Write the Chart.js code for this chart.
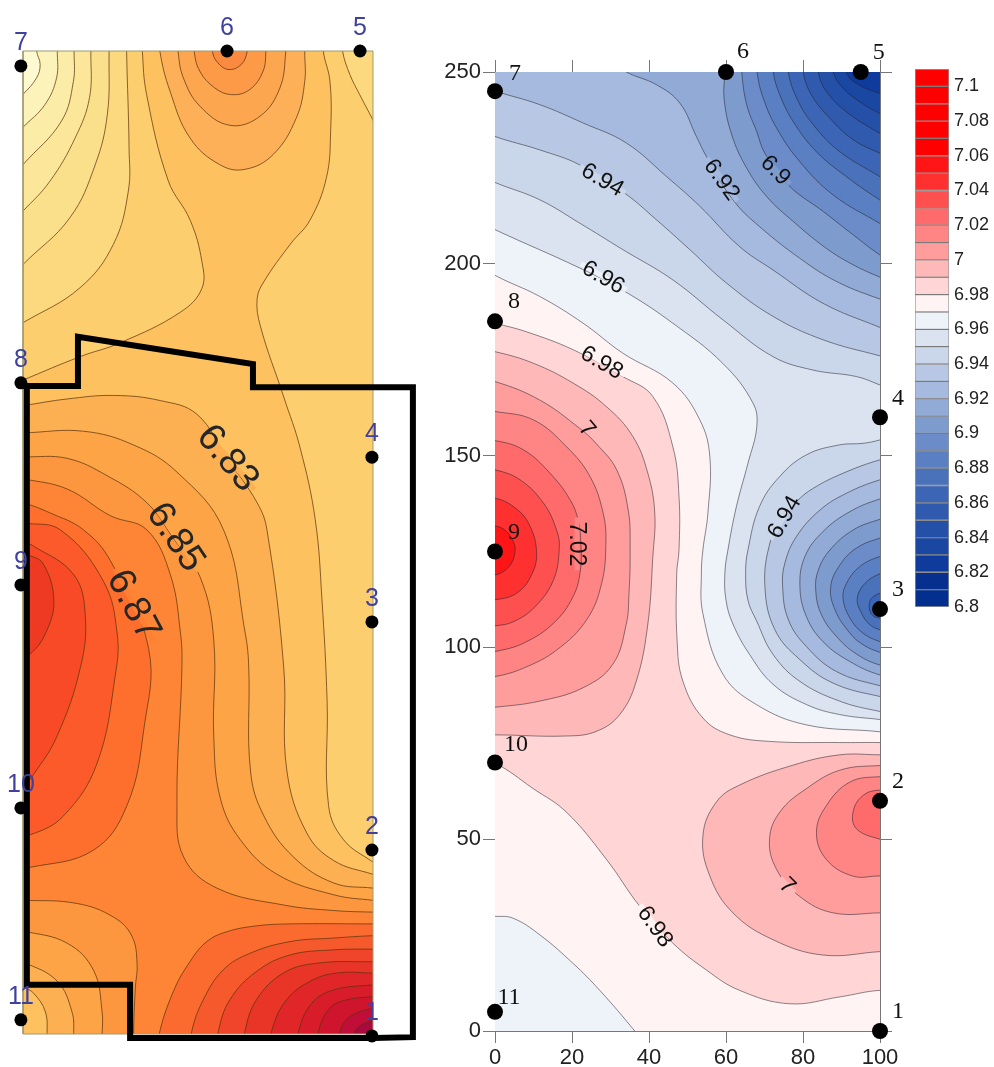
<!DOCTYPE html>
<html>
<head>
<meta charset="UTF-8">
<title>contour maps</title>
<script src="https://cdn.jsdelivr.net/npm/chart.js"></script>
<style>
  body { margin: 0; background: #fff; }
  canvas { position: absolute; }
</style>
</head>
<body>
<canvas id="leftMap" width="430" height="1067" style="left:0;top:0"></canvas>
<canvas id="rightMap" width="465" height="1027" style="left:440px;top:40px"></canvas>
<canvas id="scaleBar" width="89" height="560" style="left:905px;top:60px"></canvas>
<script>
// ---- right map: contours (x 0-100, y 0-250)
const rightBase = [[-10,-10],[110,-10],[110,260],[-10,260]];
const r697 = [[-6,201],[0,197],[11.6,191.5],[22.9,184.5],[33.2,176.7],[46.2,168.9],[53.2,159.3],[55.8,149.7],[55.3,135],[54,125.4],[53.6,119.3],[54,108.8],[59.2,93],[67.9,85.1],[80.9,79.8],[100,78],[106,77],[106,256],[-6,256]];
const r697corner = [[-6,30],[0,29.9],[4.7,29.4],[11.6,25.1],[20.3,17.6],[27.2,10.6],[36.3,0],[40,-5],[-6,-5]];
const r696 = [[-6,212],[0,208.9],[22,198.9],[33.7,192.8],[46.2,184.5],[59.2,174],[67,163.7],[68,157.6],[65.7,148],[62.7,136.7],[60.5,125.4],[59.7,119.3],[60,112.3],[61.8,106.1],[66.1,98.2],[72.2,90.4],[80.9,85.1],[89.5,82.5],[100,81.2],[106,80.5],[106,256],[-6,256]];
const r695a = [[-6,224],[0,221.2],[11.6,216.7],[22,210.6],[33.2,203.7],[46.2,195.8],[59.2,185.4],[72.2,175.8],[82.6,172.3],[93.9,170.6],[100,168.4],[106,166],[106,256],[-6,256]];
const r695b = [[106,156],[100,154.1],[95.6,153.2],[89.5,152.8],[80.9,150.2],[73.9,144.5],[68.7,136.7],[65.7,125.4],[65.1,119.3],[65.7,112.3],[67.9,107],[72.2,98.2],[79.1,91.2],[89.5,86],[100,83.3],[106,82.5]];
const r694a = [[-6,236],[0,233.2],[11.6,229.7],[22,225.8],[33.7,218.4],[41.9,211.5],[50.6,203.7],[60.1,195],[72.2,186.3],[85.2,180.2],[100,176],[106,174.5],[106,256],[-6,256]];
const r694b = [[106,150],[100,148.9],[90.4,145.4],[82.7,141.5],[78.3,138],[74.4,133.2],[71.4,127.2],[70.1,115.9],[72.7,104.6],[79.2,96.8],[87.8,90.7],[100,87.2],[106,86.5]];
const r693a = [[-6,247],[0,245],[11.6,241.5],[22.9,236.7],[34.1,231.5],[44.5,222.8],[53.2,215],[63.5,204.5],[72.2,198.4],[85.2,189.7],[100,183.4],[106,181],[106,256],[-6,256]];
const r693b = [[106,145],[100,143.7],[91.3,140.2],[84.4,135.8],[78.3,128.9],[75.3,122],[74.7,115.9],[76.2,107.2],[80.9,100.2],[88.7,93.7],[100,90],[106,89]];
const r692a = [[30,253],[34.1,250],[41.9,246.7],[48,241.9],[52.3,233.2],[54.9,228],[61.8,216.7],[68.7,209.7],[80.9,200.2],[89.5,195],[100,190.8],[106,189],[106,256],[30,256]];
const r692b = [[106,140],[100,138.7],[92.2,135.4],[85.2,130.2],[80.5,123.7],[79.2,115.9],[80.9,108],[85.2,101.5],[92.2,96.3],[100,92.8],[106,92]];
const r691a = [[59.7,256],[59.7,249.9],[59.5,243.1],[61.5,233.6],[65.4,224.9],[70.6,217.5],[77.5,211],[86.1,204],[93.1,199.7],[100,196.5],[106,194],[106,256]];
const r691b = [[106,135],[100,133.4],[93,130.6],[87,125.4],[84,120.2],[83.3,115],[84.8,108.5],[89.1,102.4],[94.3,98],[100,95.4],[106,94.5]];
const r690a = [[64.1,256],[64.1,249.9],[65.4,241.4],[68,234.4],[70.1,228.8],[76.2,220.5],[85.3,213.6],[93.1,207.5],[100,202.3],[106,199],[106,256]];
const r690b = [[106,130],[100,128.5],[93.9,125.9],[89.6,121.5],[87.2,115.9],[88.3,109.8],[92.2,103.7],[95.6,100.7],[100,98.7],[106,97]];
const r689a = [[68.1,256],[68.1,249.9],[69.7,243.1],[73.2,235.3],[79.2,226.6],[87.9,217.9],[100,210.5],[106,207],[106,256]];
const r689b = [[106,125],[100,123.7],[94.8,121.1],[91.3,116.7],[90.4,112.8],[92.2,107.6],[95.6,103.7],[100,101.5],[106,100]];
const r688a = [[72.3,256],[72.3,249.9],[74,244],[77.5,237],[83.5,229.2],[91.3,222.7],[100,216.6],[106,213],[106,256]];
const r688b = [[106,121],[100,119.2],[96.1,116.7],[94.1,112.8],[95.2,108.9],[97.4,105.9],[100,104.6],[106,103]];
const r687a = [[76.2,256],[76.2,249.9],[78.4,243.1],[82.7,236.2],[89.6,229.2],[100,222.7],[106,219],[106,256]];
const r687b = [[106,116],[100,114.1],[97.8,112.8],[97.2,110.6],[98,108.4],[100,107.6],[106,106]];
const r686 = [[80.1,256],[80.1,249.9],[82.2,244],[87,237.9],[93.1,232.3],[100,228.8],[106,226],[106,256]];
const r685 = [[84,256],[84,249.9],[86.1,244.9],[91.3,239.6],[100,234],[106,231],[106,256]];
const r684 = [[87.9,256],[87.9,249.9],[90.5,245.7],[94.8,242.2],[100,239.2],[106,237],[106,256]];
const r683 = [[91.3,256],[91.3,249.9],[93.9,247],[100,244.4],[106,243],[106,256]];
const r698 = [[-6,186],[0,184.5],[8.1,182.3],[20.3,177.6],[33.2,170.6],[41,165.4],[46.2,152.3],[47.8,139.3],[47.8,125.4],[47.2,119.3],[47.3,101.8],[48.8,91.2],[54,81.6],[61,77.2],[71.3,75.5],[89.5,75.2],[100,75.2],[106,75],[106,10],[100,10.6],[89.6,8.9],[76.5,7.1],[63.5,10.6],[54.9,15.9],[46.2,22.9],[37.6,32.5],[28.9,44.8],[18.5,57.1],[9.9,63.2],[0,69.8],[-6,71]];
const r699a = [[-6,178],[0,177.1],[9.9,174.1],[20.3,168.9],[28.9,162.8],[35.8,155],[39.7,145.4],[41.5,135],[41,123.7],[39.7,106.1],[36.7,91.2],[32.4,82.5],[26.3,78.1],[18.5,76.9],[0,77.2],[-6,77]];
const r700a = [[-6,170],[0,169.3],[11.6,164.5],[22,157.1],[26.4,153],[31.6,146.3],[34.6,135.8],[35.1,125.4],[34.8,114],[34.1,106.1],[30.6,95.6],[22.9,89.5],[11.6,86],[0,84.4],[-6,84]];
const r701a = [[-6,162],[0,161.5],[10,159.3],[18.6,152.3],[24.7,144.5],[28.1,135],[28.8,127.2],[27.7,116.7],[23.8,107.2],[16,99.3],[7.4,94.6],[0,92.4],[-6,92]];
const r702a = [[-6,154],[0,153.9],[7.4,151.5],[14.3,145.4],[19.5,138.5],[21.6,133.2],[22.3,127],[22.2,120.2],[20.3,113.3],[15.2,106.3],[7.4,101.1],[0,98.9],[-6,98]];
const r703 = [[-6,147],[0,146.3],[6.5,143.7],[12.6,137.6],[16,130.6],[16.7,125.9],[15.2,117.6],[10.4,110.6],[4.8,106.7],[0,105.6],[-6,105]];
const r704 = [[-6,139],[0,138.9],[4.8,136.7],[8.7,132.4],[10.8,125],[9.5,118.9],[5.6,114.1],[0,112.4],[-6,112]];
const r705 = [[-6,132],[0,131.7],[3,130.2],[4.9,127.2],[5.2,125],[4.3,122],[2.2,119.8],[0,118.9],[-6,118]];
const r699b = [[106,72],[100,72],[89.6,72],[77.4,69.3],[63.5,64.1],[57.5,59.7],[54,50.9],[55.8,40.4],[61.8,30.8],[72.2,23.8],[85.2,19.8],[100,20.7],[106,21]];
const r700b = [[106,69],[100,69.2],[89.6,68],[80.9,63.2],[74,57.1],[71.3,50],[73.1,42.2],[79.1,35.1],[87.8,30.8],[100,30.8],[106,31]];
const r701b = [[106,66],[100,66.3],[92.2,64.9],[86.1,58.8],[83.5,51.8],[86,44.8],[92.9,40.4],[100,40.4],[106,40]];
const r702b = [[106,62],[100,62.8],[95.6,61.4],[93,57.1],[93.9,52.7],[100,50],[106,49]];

const rightPointNames = ["1","2","3","4","5","6","7","8","9","10","11"];
const rightPointX = [100,100,100,100,95,60,0,0,0,0,0];
const rightPointY = [0,60,110,160,250,250,245,185,125,70,5];
const rightLabelText = ["6.94","6.92","6.9","6.96","6.98","7","7.02","6.94","7","6.98"];
const rightLabelX = [28,59,73,28.2,27.8,24,21.3,75,76,41.7];
const rightLabelY = [222,222,224.5,196.6,174.4,157,127,134,38,27.3];
const rightLabelAngle = [30,55,45,30,30,50,90,-60,45,55];
const rightLabelGap = ["#cad6ea","#a5bade","#7e9bce","#eef2f9","#fff4f3","#ffb8b8","#ff8585","#cad6ea","#ffb8b8","#fff4f3"];

// ---- left map: same idea, its own picture units
const leftBase = [[-10,-10],[110,-10],[110,260],[-10,260]];
const lR1 = [[85.8,256],[85.8,250],[87.7,242.3],[87.9,229.6],[86.7,217.8],[82,207],[76.4,200.9],[68.8,191.3],[66.9,187],[67.8,180.1],[74.5,162],[79.2,149],[83.5,130.8],[85.4,110.7],[86.9,84.4],[87.3,58.1],[91.6,49.4],[100,43.7],[106,40],[106,256]];
const lL9 = [[91,256],[91.3,250],[93.4,244],[96.2,238.9],[99.9,232.6],[106,222],[106,256]];
const lL7 = [[34,256],[34.1,250],[35.3,239],[41.5,217],[47.8,206.9],[51.1,196.5],[51.1,189.6],[45,183.6],[27.8,175.8],[16.4,172.3],[0,166.3],[-6,164],[-6,256]];
const lL6 = [[29.6,256],[29.6,250],[30.3,225.4],[30.1,214.4],[25.8,200.8],[16.3,189.8],[0,180.9],[-6,178],[-6,256]];
const lL5 = [[24.6,256],[24.6,250],[24.1,233.9],[20.6,221],[13.4,207.6],[0,195.7],[-6,190],[-6,256]];
const lL4 = [[19.4,256],[19.4,250],[19,238.1],[14.9,227.9],[7.7,216.9],[0,209.3],[-6,204],[-6,256]];
const lL3 = [[14.6,256],[14.6,250],[14.4,242.3],[11,232.2],[0,221.1],[-6,215],[-6,256]];
const lL2 = [[9.8,256],[9.8,250],[9.6,243.2],[6.3,236.4],[0,230.6],[-6,225],[-6,256]];
const lL1 = [[3.9,256],[3.9,250],[4.9,246.6],[3.9,243.2],[0,239],[-6,234],[-6,256]];
const lA4 = [[39,256],[39.1,250],[42,239.8],[47.7,227.9],[56.2,221.1],[63.4,219.9],[71.5,223.7],[78.1,233],[80.5,242.3],[80.5,250],[80.7,256]];
const lA3 = [[44,256],[44.3,250],[45.8,243.2],[50.5,236],[59.1,231.1],[67.7,233.4],[73.4,240.6],[75.1,250],[75.3,256]];
const lA2 = [[48.7,256],[48.9,250],[50.5,244.9],[54.8,240.6],[59.6,238.9],[64.8,240.2],[68.6,244.9],[69.4,250],[69.6,256]];
const lA1 = [[53.8,254],[54.1,250],[55.3,247.4],[58.6,245.3],[62.4,246.6],[64.1,250],[64.5,254]];
const lC1 = [[-6,159],[0,159.8],[12.6,161.5],[25.9,162.4],[39.2,161.1],[49.7,157.6],[58.3,146.4],[66.9,135.1],[69.7,128.2],[74.5,93.2],[75.4,66.9],[81.1,51.1],[88.8,44.1],[100,40.6],[106,39],[106,-6],[-6,-6]];
const lC2 = [[-6,153],[0,152.9],[17.3,153.3],[31.6,149.8],[44,142.9],[57.3,128.2],[63.5,101.9],[64.5,93.2],[65,66.9],[68.8,55.5],[77.3,45],[88.8,38.4],[100,37.1],[106,36.5],[106,-6],[-6,-6]];
const lC3 = [[-6,147],[0,146.8],[12.6,146.4],[24,142],[35.4,135.1],[43,126],[50.7,116],[54.5,100.2],[54.5,75.7],[56.4,59.9],[62.1,49.4],[72.6,40.6],[88.8,35.4],[100,34],[106,33.5],[106,-6],[-6,-6]];
const lC4 = [[-6,142],[0,141.2],[12.6,138.6],[25,131.8],[35.4,128.2],[42.1,116.8],[45,101.9],[45.4,93.2],[44,58.1],[45.9,45],[55.4,37.1],[74.5,32.8],[88.8,31.4],[100,31],[106,31],[106,-6],[-6,-6]];
const lBL1 = [[-6,34],[0,34],[15.4,33.2],[25.9,29.7],[31.1,24.9],[32.6,17.9],[32.1,11.8],[31.6,-0.5],[32,-6],[-6,-6]];
const lBL2 = [[-6,27],[0,26.2],[12.6,23.1],[20.2,16.1],[22.6,5.6],[22.6,-0.5],[22.6,-6],[-6,-6]];
const lBL3 = [[-6,20],[0,18.3],[9.7,13.5],[14,5.6],[14.5,-0.5],[14.5,-6],[-6,-6]];
const lBL4 = [[-6,13],[0,11.8],[3,10.4],[6.4,5.6],[6.9,-0.5],[6.9,-6],[-6,-6]];
const lC5 = [[-6,136],[0,135.1],[7.8,132.5],[17.3,128.2],[25,120.3],[35.9,98],[34.5,77.4],[29.7,58.1],[20.2,46.8],[2.1,42.4],[-6,42]];
const lC6 = [[-6,131],[0,130],[10.7,128.2],[23,115.1],[26.9,101.9],[26.4,91.4],[21.1,68.7],[11.6,55.5],[2.1,50.7],[-6,50]];
const lC7 = [[-6,126],[0,125],[2.6,124.3],[14.5,116.8],[17.8,106.3],[16.4,93.2],[9.7,75.7],[3,66],[0,63],[-6,60]];
const lC8 = [[-6,123],[2.1,121.6],[5.9,119.4],[8.8,110.7],[6.9,102.8],[2.1,96.7],[-6,93]];
const lBR1 = [[38.8,-6],[38.8,-0.5],[43,10.9],[47.7,18.4],[52.5,23.5],[58.2,26],[66.7,27.5],[76.3,28],[100,28],[106,28],[106,-6]];
const lBR2 = [[47.6,-6],[48.2,0.6],[51.5,8.7],[57.2,16.3],[64.8,20.5],[76.3,23.5],[88.7,24.4],[100,25],[106,25],[106,-6]];
const lBR3 = [[55.2,-6],[55.8,0.6],[59.1,8.7],[66.7,15.9],[76.3,20.1],[88.7,21.4],[100,21.6],[106,21.6],[106,-6]];
const lBR4 = [[62.8,-6],[63.4,0.6],[66.7,8.7],[74.4,15.5],[83.9,18],[100,18.4],[106,18.4],[106,-6]];
const lBR5 = [[70.4,-6],[71,0.6],[75.3,8.7],[82.9,13.8],[90.6,15.6],[100,15.5],[106,15.5],[106,-6]];
const lBR6 = [[78.2,-6],[78.7,0.6],[82.5,7.8],[88.7,11.2],[100,12.5],[106,12.8],[106,-6]];
const lBR7 = [[84,-6],[84.4,0.6],[87.7,6.6],[92.5,8.7],[100,9.5],[106,10],[106,-6]];
const lBR8 = [[90.2,-6],[90.6,0.6],[93.4,4.4],[100,6.6],[106,7.5],[106,-6]];
const lBR9 = [[94.5,-6],[94.8,0.6],[100,3.6],[106,5],[106,-6]];
const leftFrame = [[0,0],[100,0],[100,250],[0,250],[0,0]];
const leftOutline = [[-0.6,164.8],[15.7,164.8],[15.7,177.3],[65.7,170.4],[65.7,164.5],[111.4,164.5],[111.4,-0.8],[100.2,-1],[30.6,-1],[30.6,12.5],[1.1,12.5],[1.1,164.8]];

const leftPointNames = ["1","2","3","4","5","6","7","8","9","10","11"];
const leftPointX = [99.7,99.7,99.7,99.7,96.3,58.3,-0.6,-0.6,-0.6,-0.6,-0.6];
const leftPointY = [-0.5,46.8,104.8,146.7,250,250,246.2,165.6,114.2,57.5,3.6];
const leftLabelText = ["6.83","6.85","6.87"];
const leftLabelX = [58.6,43.7,31.7];
const leftLabelY = [146.5,126.4,109.1];
const leftLabelAngle = [50,56,62];
const leftLabelGap = ["#fdb052","#fda447","#ff8033"];

// ---- colour bar, bottom band first
const barBottom = 6.8;
const barStep = 0.01;
const barColours = ["#03308f","#062f8e","#0f3c9c","#1a47a2","#2450a8","#2f5aae","#3c66b5","#4a72bb","#5a7fc2","#6b8cc8","#7e9bce","#91aad6","#a5bade","#b8c8e4","#cad6ea","#dbe3f1","#eef2f9","#fff4f3","#ffd5d5","#ffb8b8","#ff9d9d","#ff8585","#ff6b6b","#ff5050","#ff3030","#ff1515","#ff0000","#ff0000","#ff0000","#ff0000","#ff0000"];

function area(points, color, extra) {
  return Object.assign({
    data: points.map(p => ({ x: p[0], y: p[1] })),
    showLine: true,
    fill: "shape",
    backgroundColor: color,
    borderColor: "rgba(35,30,40,0.75)",
    borderWidth: 0.7,
    pointRadius: 0,
    tension: 0.4
  }, extra || {});
}

// left map lines are browner and a bit heavier
function warm(points, color) {
  return area(points, color, { borderColor: "rgba(90,50,10,0.8)", borderWidth: 0.9 });
}

function dots(xs, ys, radius) {
  return {
    label: "points",
    data: xs.map((x, i) => ({ x: x, y: ys[i] })),
    backgroundColor: "#000",
    borderWidth: 0,
    pointRadius: radius,
    showLine: false,
    clip: false
  };
}

// rotated contour labels and station numbers
function textPlugin(cfg) {
  return {
    id: "mapText",
    afterDatasetsDraw(chart) {
      const ctx = chart.ctx, sx = chart.scales.x, sy = chart.scales.y;
      ctx.save();
      ctx.textAlign = "center";
      ctx.textBaseline = "middle";
      cfg.text.forEach((t, i) => {
        ctx.save();
        ctx.translate(sx.getPixelForValue(cfg.x[i]), sy.getPixelForValue(cfg.y[i]));
        ctx.rotate(cfg.angle[i] * Math.PI / 180);
        ctx.font = cfg.font;
        const w = ctx.measureText(t).width + 8;
        ctx.fillStyle = cfg.gap[i];
        ctx.fillRect(-w / 2, -2.5, w, 5);
        ctx.fillStyle = cfg.color;
        ctx.fillText(t, 0, 1);
        ctx.restore();
      });
      ctx.font = cfg.numFont;
      ctx.fillStyle = cfg.numColor;
      cfg.numNames.forEach((n, i) => {
        const off = cfg.numOffset[i];
        ctx.fillText(n, sx.getPixelForValue(cfg.numX[i]) + off[0], sy.getPixelForValue(cfg.numY[i]) + off[1]);
      });
      ctx.restore();
    }
  };
}

const baseOptions = {
  responsive: false,
  animation: false,
  events: [],
  elements: { line: { capBezierPoints: false } },
  plugins: { legend: { display: false }, tooltip: { enabled: false } }
};

// left map
const leftSets = [
  area(leftBase, "#fdc160", { tension: 0, borderWidth: 0 }),
  warm(lR1, "#fdce6e"), warm(lL9, "#fcd87f"),
  warm(lL7, "#fdce6e"), warm(lL6, "#fcd87f"), warm(lL5, "#fbe08c"), warm(lL4, "#fbe699"),
  warm(lL3, "#fbeca8"), warm(lL2, "#fcf3bb"), warm(lL1, "#fdf9d0"),
  warm(lA4, "#fdb058"), warm(lA3, "#fda650"), warm(lA2, "#fc9a48"), warm(lA1, "#f98a3f"),
  warm(lC1, "#fdb052"), warm(lC2, "#fda447"), warm(lC3, "#fd973f"), warm(lC4, "#fe8535"),
  warm(lBL1, "#fd973f"), warm(lBL2, "#fda447"), warm(lBL3, "#fdb052"), warm(lBL4, "#fdc160"),
  warm(lC5, "#fe6f2e"), warm(lC6, "#fc5a2a"), warm(lC7, "#f84a26"), warm(lC8, "#ee3a22"),
  warm(lBR1, "#fb6b30"), warm(lBR2, "#f65a2c"), warm(lBR3, "#f0452a"), warm(lBR4, "#e83528"),
  warm(lBR5, "#e02628"), warm(lBR6, "#d81c2a"), warm(lBR7, "#cf142e"), warm(lBR8, "#c00e38"), warm(lBR9, "#a80a40"),
  area(leftFrame, "transparent", { fill: false, tension: 0, borderColor: "#a09a70", borderWidth: 1, clip: false }),
  dots(leftPointX, leftPointY, 6.5),
  area(leftOutline, "transparent", { fill: false, tension: 0, borderColor: "#000", borderWidth: 6, clip: false })
];

new Chart(document.getElementById("leftMap"), {
  type: "scatter",
  data: { datasets: leftSets.reverse() }, // first dataset is painted last by Chart.js
  options: Object.assign({}, baseOptions, {
    layout: { padding: { left: 23, right: 57, top: 51, bottom: 33 } },
    scales: {
      x: { type: "linear", min: 0, max: 100, display: false },
      y: { type: "linear", min: 0, max: 250, display: false }
    }
  }),
  plugins: [textPlugin({
    text: leftLabelText, x: leftLabelX, y: leftLabelY, angle: leftLabelAngle, gap: leftLabelGap,
    font: "38px 'Liberation Sans'", color: "#262626",
    numNames: leftPointNames, numX: leftPointX, numY: leftPointY,
    numOffset: leftPointNames.map(() => [0, -23]),
    numFont: "25px 'Liberation Sans'", numColor: "#40409f"
  })]
});

// right map
const blueSets = [
  area(rightBase, "#fff4f3", { tension: 0, borderWidth: 0 }),
  area(r697, "#eef2f9"), area(r697corner, "#eef2f9"), area(r696, "#dbe3f1"),
  area(r695a, "#cad6ea"), area(r695b, "#cad6ea"), area(r694a, "#b8c8e4"), area(r694b, "#b8c8e4"),
  area(r693a, "#a5bade"), area(r693b, "#a5bade"), area(r692a, "#91aad6"), area(r692b, "#91aad6"),
  area(r691a, "#7e9bce"), area(r691b, "#7e9bce"), area(r690a, "#6b8cc8"), area(r690b, "#6b8cc8"),
  area(r689a, "#5a7fc2"), area(r689b, "#5a7fc2"), area(r688a, "#4a72bb"), area(r688b, "#4a72bb"),
  area(r687a, "#3c66b5"), area(r687b, "#3c66b5"), area(r686, "#2f5aae"), area(r685, "#2450a8"),
  area(r684, "#1a47a2"), area(r683, "#0f3c9c")
];
const redSets = [
  area(r698, "#ffd5d5"), area(r699a, "#ffb8b8"), area(r700a, "#ff9d9d"), area(r701a, "#ff8585"),
  area(r702a, "#ff6b6b"), area(r703, "#ff5050"), area(r704, "#ff3030"), area(r705, "#ff1515"),
  area(r699b, "#ffb8b8"), area(r700b, "#ff9d9d"), area(r701b, "#ff8585"), area(r702b, "#ff6b6b")
];
const rightSets = blueSets.concat(redSets, [dots(rightPointX, rightPointY, 8)]);

const axisLine = { color: "#777", width: 1 };
const axisTicks = { drawOnChartArea: false, tickLength: 12, color: "#777" };
const axisFont = { family: "'Liberation Sans'", size: 22 };

new Chart(document.getElementById("rightMap"), {
  type: "scatter",
  data: { datasets: rightSets.reverse() },
  options: Object.assign({}, baseOptions, {
    scales: {
      x: { type: "linear", position: "bottom", min: 0, max: 100, border: axisLine, grid: axisTicks,
           ticks: { stepSize: 20, font: axisFont, color: "#222", padding: 2, maxRotation: 0 }, afterFit: s => { s.height = 36; } },
      x2: { type: "linear", position: "top", min: 0, max: 100, border: axisLine, grid: axisTicks,
            ticks: { stepSize: 20, display: false }, afterFit: s => { s.height = 32; } },
      y: { type: "linear", position: "left", min: 0, max: 250, border: axisLine, grid: axisTicks,
           ticks: { stepSize: 50, font: axisFont, color: "#222", padding: 2 }, afterFit: s => { s.width = 55; } },
      y2: { type: "linear", position: "right", min: 0, max: 250, border: axisLine, grid: axisTicks,
            ticks: { stepSize: 50, display: false }, afterFit: s => { s.width = 25; } }
    }
  }),
  plugins: [textPlugin({
    text: rightLabelText, x: rightLabelX, y: rightLabelY, angle: rightLabelAngle, gap: rightLabelGap,
    font: "23px 'Liberation Sans'", color: "#111",
    numNames: rightPointNames, numX: rightPointX, numY: rightPointY,
    numOffset: [[18,-19],[18,-19],[18,-19],[18,-19],[18,-19],[17,-20],[20,-17],[19,-20],[19,-19],[21,-18],[14,-14]],
    numFont: "24px 'Liberation Serif'", numColor: "#111"
  })]
});

// colour bar
new Chart(document.getElementById("scaleBar"), {
  type: "bar",
  data: {
    labels: ["z"],
    datasets: barColours.map((c, i) => ({
      data: [[barBottom + i * barStep, barBottom + (i + 1) * barStep]],
      backgroundColor: c,
      borderColor: "rgba(30,30,30,0.45)",
      borderWidth: 1,
      borderSkipped: false,
      barPercentage: 1,
      categoryPercentage: 1,
      grouped: false
    }))
  },
  options: Object.assign({}, baseOptions, {
    layout: { padding: { left: 10, top: 9, bottom: 13 } },
    scales: {
      x: { display: false },
      y: {
        position: "right", min: 6.8, max: 7.11,
        grid: { display: false, drawTicks: false }, border: { display: false },
        ticks: {
          stepSize: 0.02, includeBounds: false, autoSkip: false, padding: 5, color: "#222",
          font: { family: "'Liberation Sans'", size: 18 },
          callback: v => String(parseFloat(v.toFixed(2)))
        },
        afterFit: s => { s.width = 45; s.paddingTop = 0; s.paddingBottom = 0; }
      }
    }
  })
});
</script>
</body>
</html>
